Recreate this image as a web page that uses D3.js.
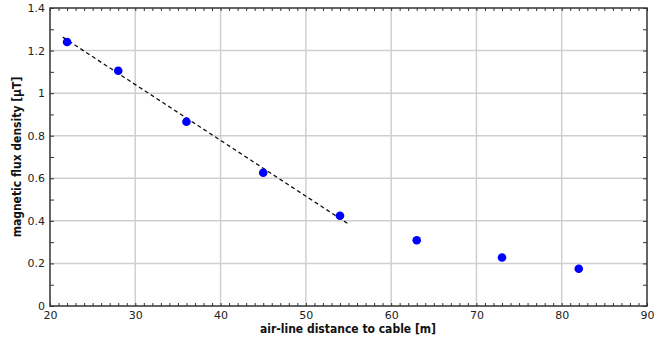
<!DOCTYPE html>
<html>
<head>
<meta charset="utf-8">
<title>magnetic flux density</title>
<script src="https://d3js.org/d3.v7.min.js"></script>
<style>
  body { margin: 0; background: #fff; }
  text { font-family: "DejaVu Sans", Verdana, sans-serif; }
</style>
</head>
<body>
<div id="main"></div>
<script>
	// measured points
	var distance = [22, 28, 36, 45, 54, 63, 73, 82];
	var flux     = [1.24, 1.105, 0.866, 0.626, 0.424, 0.309, 0.228, 0.175];

	// dashed fit line end points
	var fitX = [21.5, 55];
	var fitY = [1.263, 0.385];

	var xTicks = [20, 30, 40, 50, 60, 70, 80, 90];
	var yTicks = [0, 0.2, 0.4, 0.6, 0.8, 1, 1.2, 1.4];

	var screenWidth = 665;
	var screenHeight= 341;
	var margin      = {left: 50, top: 8, right: 18, bottom: 35};
	var innerWidth  = screenWidth - margin.left - margin.right;
	var innerHeight = screenHeight - margin.top - margin.bottom;

	var xScale = d3.scaleLinear().domain([20, 90]).range([0, innerWidth]);
	var yScale = d3.scaleLinear().domain([0, 1.4]).range([innerHeight, 0]);

	var svg = d3.select("#main").append("svg")
		.attr("width", screenWidth)
		.attr("height", screenHeight);

	var g = svg.append("g")
		.attr("transform", "translate(" + margin.left + "," + margin.top + ")");

	// grid
	g.append("g").selectAll("line").data(xTicks.slice(1, -1)).enter().append("line")
		.attr("x1", d => xScale(d)).attr("x2", d => xScale(d))
		.attr("y1", 0).attr("y2", innerHeight)
		.attr("stroke", "#cfcfcf").attr("stroke-width", 1.5);
	g.append("g").selectAll("line").data(yTicks.slice(1, -1)).enter().append("line")
		.attr("y1", d => yScale(d)).attr("y2", d => yScale(d))
		.attr("x1", 0).attr("x2", innerWidth)
		.attr("stroke", "#cfcfcf").attr("stroke-width", 1.5);

	// minor ticks, pointing inward on all four sides
	var xMinor = d3.range(20, 91, 1);
	var yMinor = d3.range(0, 15, 1).map(d => d / 10);

	function minorTicks(axis) {
		axis.selectAll(".domain").remove();
		axis.selectAll("text").remove();
		axis.selectAll("line").attr("stroke", "#333");
	}
	g.append("g").attr("transform", "translate(0," + innerHeight + ")")
		.call(d3.axisBottom(xScale).tickValues(xMinor).tickSize(-3)).call(minorTicks);
	g.append("g")
		.call(d3.axisTop(xScale).tickValues(xMinor).tickSize(-3)).call(minorTicks);
	g.append("g")
		.call(d3.axisLeft(yScale).tickValues(yMinor).tickSize(-4)).call(minorTicks);
	g.append("g").attr("transform", "translate(" + innerWidth + ",0)")
		.call(d3.axisRight(yScale).tickValues(yMinor).tickSize(-4)).call(minorTicks);

	// labelled axes
	var xAxis = g.append("g").attr("transform", "translate(0," + innerHeight + ")")
		.call(d3.axisBottom(xScale).tickValues(xTicks).tickSize(0).tickPadding(5).tickFormat(d3.format("d")));
	xAxis.select(".domain").remove();
	xAxis.selectAll("text").attr("font-size", 11).attr("fill", "#222")
		.style("font-family", "'DejaVu Sans', Verdana, sans-serif");

	var yAxis = g.append("g")
		.call(d3.axisLeft(yScale).tickValues(yTicks).tickSize(0).tickPadding(5).tickFormat(d => String(+d.toFixed(1))));
	yAxis.select(".domain").remove();
	yAxis.selectAll("text").attr("font-size", 11).attr("fill", "#222")
		.style("font-family", "'DejaVu Sans', Verdana, sans-serif");

	// frame
	g.append("rect")
		.attr("x", 0).attr("y", 0)
		.attr("width", innerWidth).attr("height", innerHeight)
		.attr("fill", "none").attr("stroke", "#333").attr("stroke-width", 1.5);

	// fit line
	g.append("line")
		.attr("x1", xScale(fitX[0])).attr("y1", yScale(fitY[0]))
		.attr("x2", xScale(fitX[1])).attr("y2", yScale(fitY[1]))
		.attr("stroke", "#111").attr("stroke-width", 1.3)
		.attr("stroke-dasharray", "4,3");

	// points
	g.selectAll("circle.pt").data(distance).enter().append("circle")
		.attr("class", "pt")
		.attr("cx", d => xScale(d))
		.attr("cy", (d, i) => yScale(flux[i]))
		.attr("r", 4.3)
		.attr("fill", "#0000ff");

	// titles
	svg.append("text")
		.attr("x", 348).attr("y", 333)
		.attr("text-anchor", "middle")
		.attr("font-size", 12).attr("font-weight", "bold").attr("fill", "#111")
		.style("font-family", "'DejaVu Sans Condensed', 'DejaVu Sans', sans-serif")
		.text("air-line distance to cable [m]");

	svg.append("text")
		.attr("transform", "translate(21,157) rotate(-90)")
		.attr("text-anchor", "middle")
		.attr("font-size", 12).attr("font-weight", "bold").attr("fill", "#111")
		.style("font-family", "'DejaVu Sans Condensed', 'DejaVu Sans', sans-serif")
		.text("magnetic flux density [µT]");
</script>
</body>
</html>
